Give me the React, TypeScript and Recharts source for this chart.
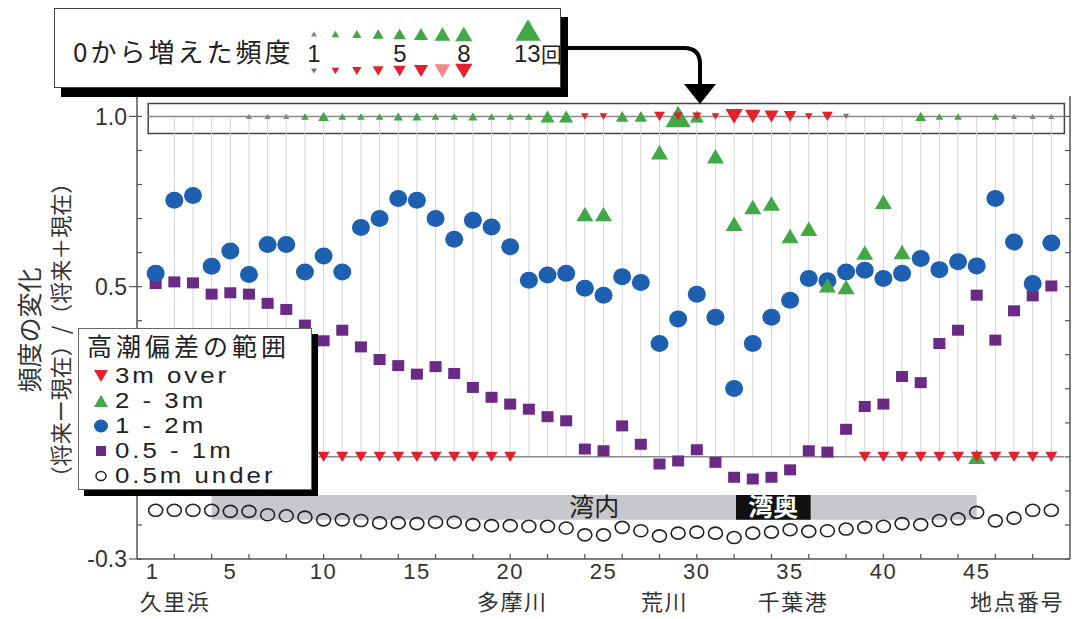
import React from "react";
import { ScatterChart, Scatter, XAxis, YAxis, ReferenceLine, ReferenceArea } from "recharts";

// 地点番号
const stations = [
  1, 2, 3, 4, 5, 6, 7, 8, 9, 10, 11, 12, 13, 14, 15, 16, 17, 18, 19, 20, 21, 22, 23, 24, 25,
  26, 27, 28, 29, 30, 31, 32, 33, 34, 35, 36, 37, 38, 39, 40, 41, 42, 43, 44, 45, 46, 47, 48, 49
];

// 1 - 2m
const range1to2m = [
  0.539, 0.754, 0.768, 0.56, 0.605, 0.536, 0.624, 0.624, 0.543, 0.59, 0.543, 0.674, 0.7, 0.759,
  0.754, 0.7, 0.639, 0.695, 0.675, 0.617, 0.519, 0.534, 0.539, 0.495, 0.475, 0.529, 0.512, 0.333,
  0.405, 0.478, 0.41, 0.201, 0.333, 0.41, 0.46, 0.524, 0.517, 0.543, 0.548, 0.524, 0.539, 0.583,
  0.55, 0.573, 0.561, 0.759, 0.631, 0.509, 0.628
];

// 0.5 - 1m
const range05to1m = [
  0.509, 0.514, 0.511, 0.478, 0.482, 0.478, 0.451, 0.433, 0.387, 0.341, 0.372, 0.323, 0.286, 0.268,
  0.243, 0.265, 0.245, 0.204, 0.175, 0.155, 0.14, 0.118, 0.106, 0.023, 0.018, 0.091, 0.037, -0.021,
  -0.012, 0.021, -0.016, -0.06, -0.065, -0.06, -0.038, 0.018, 0.014, 0.081, 0.148, 0.155, 0.236,
  0.218, 0.333, 0.372, 0.475, 0.343, 0.429, 0.473, 0.502
];

// 0.5m under
const range05under = [
  -0.157, -0.157, -0.157, -0.157, -0.16, -0.16, -0.17, -0.173, -0.177, -0.185, -0.185, -0.187,
  -0.194, -0.194, -0.196, -0.192, -0.192, -0.199, -0.202, -0.202, -0.204, -0.204, -0.209, -0.229,
  -0.229, -0.207, -0.217, -0.232, -0.224, -0.221, -0.224, -0.237, -0.224, -0.221, -0.214, -0.219,
  -0.217, -0.212, -0.207, -0.204, -0.196, -0.199, -0.187, -0.182, -0.163, -0.188, -0.18, -0.157,
  -0.157
];

// 2 - 3m (地点ごと)
const range2to3mStations = [24, 25, 28, 31, 32, 33, 34, 35, 36, 37, 38, 39, 40, 41, 45];
const range2to3mValues = [
  0.713, 0.713, 0.895, 0.883, 0.685, 0.734, 0.744, 0.649, 0.67, 0.504, 0.499, 0.6, 0.749, 0.602, 0
];

// 3m over が 0 のまま
const over3mZeroStations = [10, 11, 12, 13, 14, 15, 16, 17, 18, 19, 20, 39, 40, 41, 42, 43, 44, 45, 46, 47, 48, 49];

// 0から増えた頻度 (1.0 の行)
const newGreenStations = [6, 7, 8, 9, 10, 11, 12, 13, 14, 15, 16, 17, 18, 19, 20, 21, 22, 23, 26, 27, 29, 30, 42, 43, 44, 46, 47, 48, 49];
const newGreenCounts = [1, 1, 1, 2, 4, 2, 2, 2, 3, 3, 2, 2, 3, 2, 2, 2, 6, 6, 5, 5, 13, 6, 4, 2, 2, 2, 1, 1, 1];
const newRedStations = [24, 25, 28, 29, 30, 31, 32, 33, 34, 35, 36, 37, 38];
const newRedCounts = [2, 2, 4, 3, 3, 2, 8, 7, 6, 5, 2, 4, 1];

const legendCounts = [1, 2, 3, 4, 5, 6, 7, 8];

const yTicks = [-0.3, -0.2, -0.1, 0, 0.1, 0.2, 0.3, 0.4, 0.5, 0.6, 0.7, 0.8, 0.9, 1.0];
const yLabeled = [1.0, 0.5, -0.3];
const xTicks = [1, 2, 4, 5, 6, 8, 10, 12, 14, 15, 16, 18, 20, 22, 24, 25, 26, 28, 30, 32, 34, 35, 36, 38, 40, 42, 44, 45, 46, 47, 48];
const xLabeled = [1, 5, 10, 15, 20, 25, 30, 35, 40, 45];
const placeStations = [1, 20, 28, 35, 47];
const placeNames = ["久里浜", "多摩川", "荒川", "千葉港", "地点番号"];

const rangeLabels = ["3m over", "2 - 3m", "1 - 2m", "0.5 - 1m", "0.5m under"];

const bayInner = [4, 45];
const bayInnermost = [32.1, 36.1];

const BLUE = "#1d5fb0";
const GREEN = "#40a845";
const RED = "#e4202d";
const PURPLE = "#6b2a86";
const JP = "'Noto Sans CJK JP', sans-serif";
const NUM = "'Liberation Sans', Arial, sans-serif";

const triSize = (n: number) => 4.5 + 1.6 * n;

function tri(cx: number, cy: number, w: number, up: boolean, fill: string) {
  const h = w * 0.85;
  const pts = up
    ? `${cx},${cy - h / 2} ${cx - w / 2},${cy + h / 2} ${cx + w / 2},${cy + h / 2}`
    : `${cx},${cy + h / 2} ${cx - w / 2},${cy - h / 2} ${cx + w / 2},${cy - h / 2}`;
  return <polygon points={pts} fill={fill} />;
}

const greenFill = (n: number) => (n <= 1 ? "#7a8a7a" : GREEN);
const redFill = (n: number) => (n <= 1 ? "#8a6a6a" : RED);

const blueData = stations.map((s, i) => ({ x: s, y: range1to2m[i] }));
const purpleData = stations.map((s, i) => ({ x: s, y: range05to1m[i] }));
const hollowData = stations.map((s, i) => ({ x: s, y: range05under[i] }));
const greenData = range2to3mStations.map((s, i) => ({ x: s, y: range2to3mValues[i] }));
const redZeroData = over3mZeroStations.map((s) => ({ x: s, y: 0 }));
const newGreenData = newGreenStations.map((s, i) => ({ x: s, y: 1, n: newGreenCounts[i] }));
const newRedData = newRedStations.map((s, i) => ({ x: s, y: 1, n: newRedCounts[i] }));

const near = (a: number, b: number) => Math.abs(a - b) < 1e-6;

function LeftTick(p: any) {
  const { x, y } = p;
  const v = p.payload.value;
  const lab = yLabeled.some((t) => near(t, v));
  return (
    <g>
      <line x1={x} x2={x + 5} y1={y} y2={y} stroke="#555" strokeWidth={1.2} />
      {lab && <line x1={x - 8} x2={x} y1={y} y2={y} stroke="#555" strokeWidth={1.2} />}
      {lab && (
        <text x={x - 10} y={y} dy="0.36em" textAnchor="end" fontSize={23} fill="#333" fontFamily={NUM}>
          {v.toFixed(1)}
        </text>
      )}
    </g>
  );
}

function RightTick(p: any) {
  const { x, y } = p;
  return <line x1={x - 5} x2={x} y1={y} y2={y} stroke="#555" strokeWidth={1.2} />;
}

function BottomTick(p: any) {
  const { x, y } = p;
  const v = p.payload.value;
  const pi = placeStations.indexOf(v);
  return (
    <g>
      {v % 2 === 0 && <line x1={x} x2={x} y1={y} y2={y - 5} stroke="#555" strokeWidth={1.2} />}
      {xLabeled.includes(v) && (
        <text x={x - (v === 1 ? 3 : 0)} y={y + 20} textAnchor="middle" fontSize={22} fill="#333" fontFamily={NUM} letterSpacing={1.5}>
          {v}
        </text>
      )}
      {pi >= 0 && (
        <text
          x={pi === 0 ? x - 16 : x + (pi === 2 ? 5 : pi === 1 ? 2 : 3)}
          y={y + 51}
          textAnchor={pi === 0 ? "start" : "middle"}
          fontSize={22}
          fill="#333"
          fontFamily={JP}
          letterSpacing={1.5}
        >
          {placeNames[pi]}
        </text>
      )}
    </g>
  );
}

export default function App() {
  return (
    <div style={{ position: "absolute", left: 0, top: 0, width: 1078, height: 619, background: "#fff", overflow: "hidden" }}>
      <ScatterChart width={1078} height={619} margin={{ top: 96, right: 0, bottom: 0, left: 0 }}>
        <XAxis
          type="number"
          dataKey="x"
          domain={[0, 50]}
          ticks={xTicks}
          interval={0}
          height={60}
          tickSize={0}
          tickMargin={0}
          tickLine={false}
          tick={<BottomTick />}
          axisLine={{ stroke: "#555", strokeWidth: 1.5 }}
          allowDataOverflow
        />
        <YAxis
          type="number"
          dataKey="y"
          domain={[-0.3, 1.06]}
          ticks={yTicks}
          interval={0}
          width={137}
          tickSize={0}
          tickMargin={0}
          tickLine={false}
          tick={<LeftTick />}
          axisLine={{ stroke: "#555", strokeWidth: 1.5 }}
          allowDataOverflow
        />
        <YAxis
          yAxisId="r"
          orientation="right"
          type="number"
          domain={[-0.3, 1.06]}
          ticks={yTicks}
          interval={0}
          width={8}
          tickSize={0}
          tickMargin={0}
          tickLine={false}
          tick={<RightTick />}
          axisLine={{ stroke: "#555", strokeWidth: 1.5 }}
          allowDataOverflow
        />

        {stations.slice(1).map((s) => (
          <ReferenceLine key={`v${s}`} segment={[{ x: s, y: 0 }, { x: s, y: 1 }]} stroke="#d4d4d4" strokeWidth={1} />
        ))}
        <ReferenceLine segment={[{ x: 0.6, y: 0 }, { x: 49.7, y: 0 }]} stroke="#8a8a8a" strokeWidth={1.5} />
        <ReferenceLine segment={[{ x: 0.6, y: 1 }, { x: 49.7, y: 1 }]} stroke="#8a8a8a" strokeWidth={1.5} />
        <ReferenceArea x1={0.6} x2={49.7} y1={0.95} y2={1.038} fill="none" stroke="#444" strokeWidth={1.5} />
        <ReferenceArea
          x1={bayInner[0]}
          x2={bayInner[1]}
          y1={-0.185}
          y2={-0.112}
          fill="#c6c8cb"
          fillOpacity={1}
          stroke="none"
          label={{ value: "湾内", position: "center", fill: "#222", fontSize: 25, fontFamily: JP }}
        />
        <ReferenceArea
          x1={bayInnermost[0]}
          x2={bayInnermost[1]}
          y1={-0.185}
          y2={-0.112}
          fill="#111"
          fillOpacity={1}
          stroke="none"
          label={{ value: "湾奥", position: "center", fill: "#fff", fontSize: 25, fontWeight: 700, fontFamily: JP }}
        />

        <Scatter
          data={hollowData}
          isAnimationActive={false}
          shape={(p: any) => <ellipse cx={p.cx} cy={p.cy} rx={7} ry={6} fill="none" stroke="#222" strokeWidth={1.6} />}
        />
        <Scatter
          data={purpleData}
          isAnimationActive={false}
          shape={(p: any) => <rect x={p.cx - 6} y={p.cy - 5.5} width={12} height={11} fill={PURPLE} />}
        />
        <Scatter
          data={blueData}
          isAnimationActive={false}
          shape={(p: any) => <ellipse cx={p.cx} cy={p.cy} rx={9} ry={8.5} fill={BLUE} />}
        />
        <Scatter data={greenData} isAnimationActive={false} shape={(p: any) => tri(p.cx, p.cy, 17, true, GREEN)} />
        <Scatter data={redZeroData} isAnimationActive={false} shape={(p: any) => tri(p.cx, p.cy, 12, false, RED)} />
        <Scatter
          data={newGreenData}
          isAnimationActive={false}
          shape={(p: any) => tri(p.cx, p.cy, triSize(p.payload.n), true, greenFill(p.payload.n))}
        />
        <Scatter
          data={newRedData}
          isAnimationActive={false}
          shape={(p: any) => tri(p.cx, p.cy, triSize(p.payload.n), false, redFill(p.payload.n))}
        />
      </ScatterChart>

      {/* 0から増えた頻度 box */}
      <div
        style={{
          position: "absolute",
          left: 54,
          top: 8,
          width: 505,
          height: 78,
          border: "1.5px solid #444",
          background: "#fff",
          boxShadow: "7px 9px 0 #000"
        }}
      />

      {/* 高潮偏差の範囲 legend */}
      <div
        style={{
          position: "absolute",
          left: 78,
          top: 328,
          width: 232,
          height: 160,
          border: "1px solid #666",
          background: "#fff",
          boxShadow: "6px 6px 0 #000",
          color: "#222"
        }}
      >
        <div
          style={{
            position: "absolute",
            left: 8,
            top: 2,
            fontFamily: JP,
            fontSize: 25,
            lineHeight: "28px",
            letterSpacing: 4,
            whiteSpace: "nowrap"
          }}
        >
          高潮偏差の範囲
        </div>
        {rangeLabels.map((t, i) => (
          <div
            key={t}
            style={{
              position: "absolute",
              left: 36,
              top: 35 + i * 25,
              fontFamily: NUM,
              fontSize: 21.5,
              lineHeight: "24px",
              letterSpacing: 2.5,
              whiteSpace: "nowrap",
              transform: "scaleX(1.2)",
              transformOrigin: "left center"
            }}
          >
            {t}
          </div>
        ))}
        <svg style={{ position: "absolute", left: 0, top: 0 }} width={40} height={160}>
          {tri(22, 47, 14, false, RED)}
          {tri(22, 72, 14, true, GREEN)}
          <ellipse cx={22} cy={97} rx={7} ry={6.5} fill={BLUE} />
          <rect x={17} y={117} width={10} height={10} fill={PURPLE} />
          <ellipse cx={22} cy={147} rx={5} ry={4.5} fill="none" stroke="#222" strokeWidth={1.5} />
        </svg>
      </div>

      <svg style={{ position: "absolute", left: 0, top: 0, pointerEvents: "none" }} width={1078} height={619}>
        {/* y axis title */}
        <text
          transform="translate(28,330) rotate(-90)"
          textAnchor="middle"
          dominantBaseline="central"
          fontSize={25}
          fill="#333"
          fontFamily={JP}
        >
          頻度の変化
        </text>
        <text
          transform="translate(59,330) rotate(-90)"
          textAnchor="middle"
          dominantBaseline="central"
          fontSize={22}
          fill="#333"
          fontFamily={JP}
        >
          （将来ー現在）/（将来＋現在）
        </text>

        {/* frequency key */}
        <text x={73} y={62} fontSize={26} fill="#222" fontFamily={JP} letterSpacing={3}>
          0から増えた頻度
        </text>
        {legendCounts.map((n, i) => (
          <g key={n}>
            {tri(314 + i * 21.4, 34, triSize(n), true, greenFill(n))}
            {tri(314 + i * 21.4, 71, triSize(n), false, n === 7 ? "#f08a8a" : redFill(n))}
          </g>
        ))}
        {tri(528, 30, triSize(13), true, GREEN)}
        {[
          ["1", 314],
          ["5", 400],
          ["8", 464]
        ].map(([t, x]) => (
          <text key={t as string} x={x as number} y={62} textAnchor="middle" fontSize={24} fill="#222" fontFamily={NUM}>
            {t}
          </text>
        ))}
        <text x={514} y={62} fontSize={24} fill="#222" fontFamily={NUM}>
          13
        </text>
        <text x={541} y={62} fontSize={21} fill="#222" fontFamily={JP}>
          回
        </text>

        {/* arrow */}
        <path d="M566,48 H684 Q700,48 700,64 V86" fill="none" stroke="#000" strokeWidth={4} />
        <polygon points="684,84 716,84 700,104" fill="#000" />
      </svg>
    </div>
  );
}
